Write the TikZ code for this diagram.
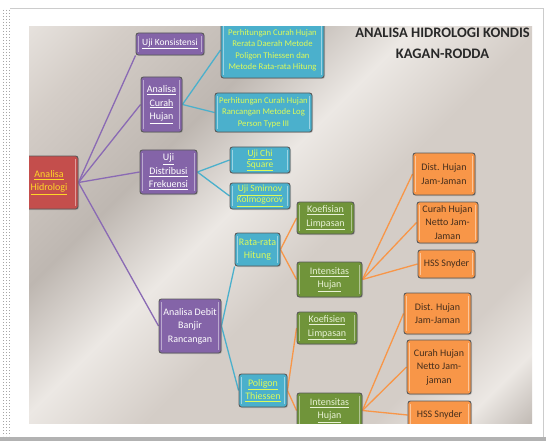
\documentclass[tikz,border=0pt]{standalone}
\usepackage{fontspec}
\setmainfont{Carlito}
\usetikzlibrary{shadows}
\definecolor{bgmetal}{RGB}{212,205,199}
\definecolor{bgdark}{RGB}{168,160,154}
\definecolor{bgmid}{RGB}{190,183,177}
\definecolor{bglight}{RGB}{236,232,228}
\definecolor{redfill}{RGB}{196,78,76}
\definecolor{redtext}{RGB}{255,214,40}
\definecolor{purplefill}{RGB}{132,100,168}
\definecolor{purpleline}{RGB}{138,106,180}
\definecolor{cyanfill}{RGB}{75,176,204}
\definecolor{cyantext}{RGB}{220,250,90}
\definecolor{greenfill}{RGB}{112,148,58}
\definecolor{greentext}{RGB}{232,242,214}
\definecolor{orangefill}{RGB}{248,150,72}
\definecolor{orangetext}{RGB}{70,46,28}
\definecolor{titlegrey}{RGB}{40,40,40}
\pgfdeclarehorizontalshading{metal}{100bp}{color(0bp)=(bgdark); color(14bp)=(bgmid);
  color(20bp)=(bglight); color(27bp)=(bgmetal); color(45bp)=(bgmetal); color(55bp)=(bglight);
  color(65bp)=(bgmid); color(78bp)=(bgmetal); color(88bp)=(bglight); color(100bp)=(bgmetal)}
\pgfdeclarelayer{back}
\pgfdeclarelayer{lines}
\pgfsetlayers{back,lines,main}
\tikzset{
  kotak/.style={draw=black!65, line width=0.9pt, rounded corners=2.5pt, align=center,
    inner sep=1pt, font=\fontsize{10}{13.5}\selectfont,
    drop shadow={shadow xshift=1pt, shadow yshift=-1pt, opacity=0.35},
    path picture={
      \draw[white, opacity=0.45, line width=1.6pt]
        ([xshift=2.5pt,yshift=3pt]path picture bounding box.south west) --
        ([xshift=2.5pt,yshift=-3pt]path picture bounding box.north west);
      \draw[white, opacity=0.45, line width=1.6pt]
        ([xshift=-2.5pt,yshift=3pt]path picture bounding box.south east) --
        ([xshift=-2.5pt,yshift=-3pt]path picture bounding box.north east);}},
  kecil/.style={font=\fontsize{8.7}{11.5}\selectfont},
  sedang/.style={font=\fontsize{9.5}{11}\selectfont},
  redbox/.style={kotak, fill=redfill, text=redtext},
  purplebox/.style={kotak, fill=purplefill, text=white},
  cyanbox/.style={kotak, fill=cyanfill, text=cyantext},
  greenbox/.style={kotak, fill=greenfill, text=greentext},
  orangebox/.style={kotak, fill=orangefill, text=orangetext},
  purplecon/.style={draw=purpleline, line width=1.3pt},
  cyancon/.style={draw=cyanfill, line width=1.3pt},
  orangecon/.style={draw=orangefill, line width=1.3pt}
}
\begin{document}
\begin{tikzpicture}[x=1pt,y=-1pt]
\useasboundingbox (0,0) rectangle (546,441);
\begin{scope}
\clip (29,27) rectangle (532,423);
\node[redbox, minimum width=58pt, minimum height=53pt] (hidro) at (49,182.5) {\underline{Analisa}\\\underline{Hidrologi}};
\node[purplebox, minimum width=68pt, minimum height=22pt, sedang] (konsis) at (170,44) {\underline{Uji Konsistensi}};
\node[purplebox, minimum width=41pt, minimum height=55pt] (curah) at (161.5,104.5) {\underline{Analisa}\\\underline{Curah}\\\underline{Hujan}};
\node[cyanbox, minimum width=103pt, minimum height=56pt, kecil] (rerata) at (272.5,50) {Perhitungan Curah Hujan\\Rerata Daerah Metode\\Poligon Thiessen dan\\Metode Rata-rata Hitung};
\node[cyanbox, minimum width=97pt, minimum height=39pt, kecil] (logperson) at (263.5,112.5) {Perhitungan Curah Hujan\\Rancangan Metode Log\\Person Type III};
\node[purplebox, minimum width=57pt, minimum height=44pt] (distrib) at (168.5,172) {\underline{Uji}\\\underline{Distribusi}\\\underline{Frekuensi}};
\node[cyanbox, minimum width=60pt, minimum height=26pt, sedang] (chi) at (260,160) {\underline{Uji Chi}\\\underline{Square}};
\node[cyanbox, minimum width=60pt, minimum height=26pt, sedang] (smirnov) at (260,196) {\underline{Uji Smirnov}\\\underline{Kolmogorov}};
\node[purplebox, minimum width=62pt, minimum height=54pt] (debit) at (190,326) {Analisa Debit\\Banjir\\Rancangan};
\node[cyanbox, minimum width=45pt, minimum height=33pt] (ratarata) at (257.5,249.5) {Rata-rata\\Hitung};
\node[cyanbox, minimum width=48pt, minimum height=33pt] (poligon) at (263,390.5) {\underline{Poligon}\\\underline{Thiessen}};
\node[greenbox, minimum width=57pt, minimum height=32pt] (koefa) at (325.5,218) {\underline{Koefisian}\\\underline{Limpasan}};
\node[greenbox, minimum width=65pt, minimum height=35pt] (intensa) at (329.5,279.5) {\underline{Intensitas}\\\underline{Hujan}};
\node[greenbox, minimum width=60pt, minimum height=32pt] (koefb) at (327,328) {\underline{Koefisien}\\\underline{Limpasan}};
\node[greenbox, minimum width=65pt, minimum height=35pt] (intensb) at (329.5,410.5) {\underline{Intensitas}\\\underline{Hujan}};
\node[orangebox, minimum width=62pt, minimum height=42pt] (dista) at (444,174) {Dist. Hujan\\Jam-Jaman};
\node[orangebox, minimum width=61pt, minimum height=41pt] (nettoa) at (447.5,222.5) {Curah Hujan\\Netto Jam-\\Jaman};
\node[orangebox, minimum width=57pt, minimum height=28pt] (hssa) at (446.5,264) {HSS Snyder};
\node[orangebox, minimum width=67pt, minimum height=41pt] (distb) at (437.5,313.5) {Dist. Hujan\\Jam-Jaman};
\node[orangebox, minimum width=64pt, minimum height=54pt] (nettob) at (439,367) {Curah Hujan\\Netto Jam-\\jaman};
\node[orangebox, minimum width=63pt, minimum height=28pt] (hssb) at (439.5,415) {HSS Snyder};
\end{scope}
\node[font=\bfseries\fontsize{14.5}{21}\selectfont, text=titlegrey, align=center] (judul) at (442.5,43.5) {ANALISA HIDROLOGI KONDIS\\KAGAN-RODDA};

\begin{pgfonlayer}{back}
\fill[white] (0,0) rectangle (546,441);
\draw[black!20, line width=0.8pt] (10,8) -- (543,8) -- (543,437);
\fill[black!30] (0,437) rectangle (546,441);
\foreach \xx in {3,6,9}
  \draw[black!35, line width=1pt, dotted] (\xx,10) -- (\xx,436);
\shade[shading=metal, shading angle=135] (29,27) rectangle (532,423);
\end{pgfonlayer}

\begin{pgfonlayer}{lines}
\clip (29,27) rectangle (532,423);
\draw[purplecon] (hidro.east) -- (konsis.south west);
\draw[purplecon] (hidro.east) -- (curah.west);
\draw[purplecon] (hidro.east) -- (distrib.west);
\draw[purplecon] (hidro.east) -- (debit.west);
\draw[cyancon] (curah.east) -- (rerata.west);
\draw[cyancon] (curah.east) -- (logperson.west);
\draw[cyancon] (distrib.east) -- (chi.west);
\draw[cyancon] (distrib.east) -- (smirnov.west);
\draw[cyancon] (debit.east) -- (ratarata.south west);
\draw[cyancon] (debit.east) -- (poligon.west);
\draw[orangecon] (ratarata.east) -- (koefa.west);
\draw[orangecon] (ratarata.east) -- (intensa.west);
\draw[orangecon] (poligon.east) -- (koefb.west);
\draw[orangecon] (poligon.east) -- (intensb.west);
\draw[orangecon] (intensa.east) -- (dista.west);
\draw[orangecon] (intensa.east) -- (nettoa.west);
\draw[orangecon] (intensa.east) -- (hssa.west);
\draw[orangecon] (intensb.east) -- (distb.west);
\draw[orangecon] (intensb.east) -- (nettob.west);
\draw[orangecon] (intensb.east) -- (hssb.west);
\end{pgfonlayer}
\end{tikzpicture}
\end{document}
